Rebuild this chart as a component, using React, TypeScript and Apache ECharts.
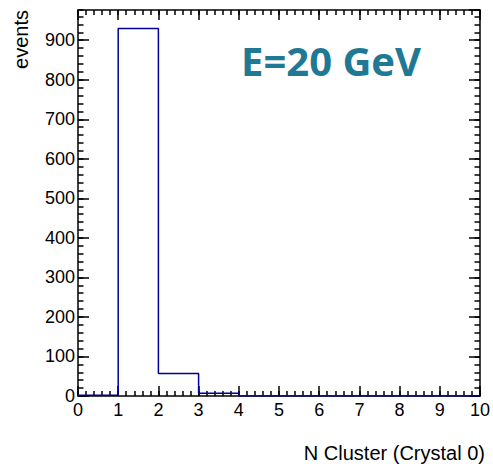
import React, { useEffect, useRef } from "react";
import * as echarts from "echarts";

// Histogram of the number of clusters found in crystal 0
const binEdges = [0, 1, 2, 3, 4, 5, 6, 7, 8, 9, 10];
const binCounts = [2, 930, 57, 7, 0, 0, 0, 0, 0, 0];
const xTickLabels = ["0", "1", "2", "3", "4", "5", "6", "7", "8", "9", "10"];
const yMax = 976.5;

const FONT = '"Liberation Sans", Arial, Helvetica, sans-serif';
const FRAME = "#000000";
const LINE_COLOR = "#000099";

function stepPoints(): [number, number][] {
  const pts: [number, number][] = [[binEdges[0], 0]];
  binCounts.forEach((c, i) => pts.push([binEdges[i], c]));
  pts.push([binEdges[binEdges.length - 1], 0]);
  return pts;
}

function tickAxis(
  position: string,
  interval: number,
  length: number,
  withLabels: boolean,
  isX: boolean
) {
  return {
    type: "value",
    position,
    min: isX ? binEdges[0] : 0,
    max: isX ? binEdges[binEdges.length - 1] : yMax,
    interval,
    axisLine: {
      show: length > 6,
      onZero: false,
      lineStyle: { color: FRAME, width: 1.5 },
    },
    axisTick: { show: true, inside: true, length, lineStyle: { color: FRAME, width: 1.5 } },
    axisLabel: withLabels
      ? {
          show: true,
          color: "#000",
          fontFamily: FONT,
          fontSize: 18,
          margin: isX ? 5 : 3,
          showMaxLabel: isX,
          formatter: isX ? (v: number) => xTickLabels[Math.round(v)] ?? "" : undefined,
        }
      : { show: false },
    splitLine: { show: false },
  };
}

export default function App() {
  const ref = useRef<HTMLDivElement>(null);

  useEffect(() => {
    if (!ref.current) return;
    const chart = echarts.init(ref.current, undefined, { renderer: "svg" });
    chart.setOption({
      animation: false,
      backgroundColor: "#ffffff",
      grid: { left: 78, right: 9, top: 10, bottom: 68, containLabel: false },
      xAxis: [
        tickAxis("bottom", 1, 10, true, true),
        tickAxis("bottom", 0.2, 5, false, true),
        tickAxis("top", 1, 10, false, true),
        tickAxis("top", 0.2, 5, false, true),
      ],
      yAxis: [
        tickAxis("left", 100, 11, true, false),
        tickAxis("left", 20, 5.5, false, false),
        tickAxis("right", 100, 11, false, false),
        tickAxis("right", 20, 5.5, false, false),
      ],
      series: [
        {
          type: "line",
          xAxisIndex: 0,
          yAxisIndex: 0,
          step: "end",
          symbol: "none",
          data: stepPoints(),
          lineStyle: { color: LINE_COLOR, width: 1.5 },
          clip: true,
        },
      ],
      graphic: [
        {
          type: "text",
          x: 21,
          y: 10,
          rotation: Math.PI / 2,
          style: {
            text: "events",
            align: "right",
            verticalAlign: "middle",
            font: `20px ${FONT}`,
            fill: "#000",
          },
        },
        {
          type: "text",
          x: 485,
          y: 453,
          style: {
            text: "N Cluster (Crystal 0)",
            align: "right",
            verticalAlign: "middle",
            font: `20px ${FONT}`,
            fill: "#000",
          },
        },
        {
          type: "text",
          x: 241,
          y: 60,
          style: {
            text: "E=20 GeV",
            align: "left",
            verticalAlign: "middle",
            font: `bold 40px "Open Sans", sans-serif`,
            fill: "#1f7894",
          },
        },
      ],
    });
    return () => chart.dispose();
  }, []);

  return (
    <div
      ref={ref}
      style={{ position: "absolute", left: 0, top: 0, width: 493, height: 464 }}
    />
  );
}
